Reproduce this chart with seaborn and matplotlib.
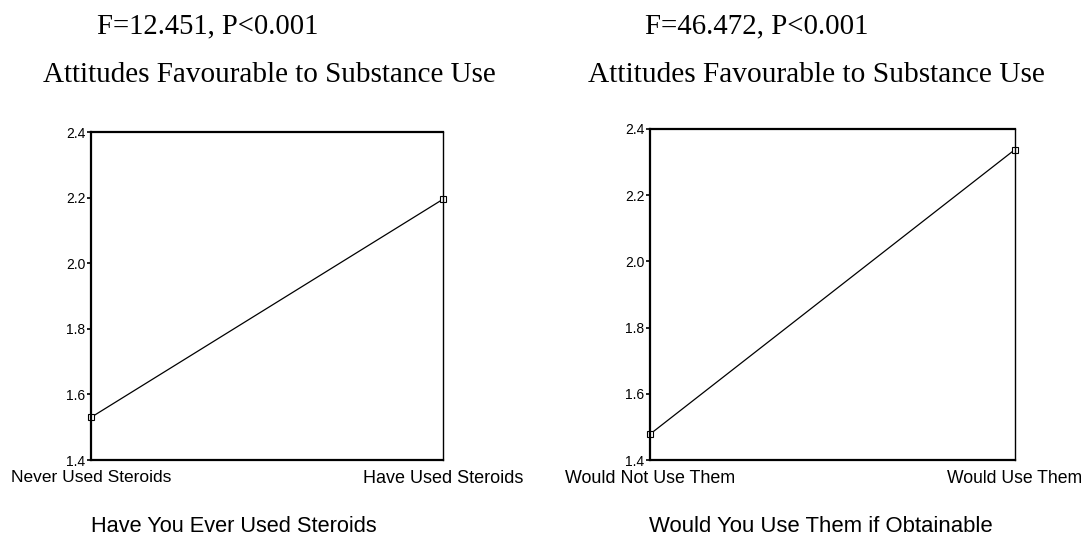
import matplotlib
matplotlib.use("Agg")
import matplotlib.pyplot as plt
import seaborn as sns
import pandas as pd

# ---- data ----
groups_left = ["Never Used Steroids", "Have Used Steroids"]
means_left = [1.53, 2.195]
groups_right = ["Would Not Use Them", "Would Use Them"]
means_right = [1.478, 2.338]
stats_left = "F=12.451, P<0.001"
stats_right = "F=46.472, P<0.001"
dv_title = "Attitudes Favourable to Substance Use"
xlabel_left = "Have You Ever Used Steroids"
xlabel_right = "Would You Use Them if Obtainable"
yticks = [1.4, 1.6, 1.8, 2.0, 2.2, 2.4]
ytick_labels = ["1.4", "1.6", "1.8", "2.0", "2.2", "2.4"]

sns.set_theme(style="white")
plt.rcParams["font.family"] = ["Liberation Sans", "DejaVu Sans"]

W, H = 1088, 538
fig = plt.figure(figsize=(W / 100, H / 100), dpi=100)
fig.patch.set_facecolor("white")


def px_axes(x0, y0, x1, y1):
    return fig.add_axes([x0 / W, 1 - y1 / H, (x1 - x0) / W, (y1 - y0) / H])


axL = px_axes(91, 132, 443, 460)
axR = px_axes(650, 129, 1015, 460)

panels = [
    (axL, groups_left, means_left),
    (axR, groups_right, means_right),
]

for ax, groups, means in panels:
    df = pd.DataFrame({"group": groups, "mean": means})
    sns.lineplot(data=df, x="group", y="mean", ax=ax, sort=False,
                 color="black", linewidth=0.9, marker="s", markersize=5,
                 markerfacecolor="white", markeredgecolor="black",
                 markeredgewidth=0.8)
    for ln in ax.lines:
        ln.set_clip_on(False)
    ax.set_xlim(0, 1)
    ax.set_ylim(1.4, 2.4)
    ax.set_yticks(yticks)
    ax.set_yticklabels(ytick_labels)
    ax.set_xlabel("")
    ax.set_ylabel("")
    ax.tick_params(axis="y", direction="out", length=3, width=1.2,
                   labelsize=10, pad=1, left=True, colors="black")
    ax.tick_params(axis="x", length=0, pad=7, labelsize=12, colors="black")
    for name, sp in ax.spines.items():
        sp.set_visible(True)
        sp.set_color("black")
        sp.set_linewidth(1.0 if name == "right" else 1.6)

texts = []


def ftext(x, y, s, target_w, **kw):
    t = fig.text(x / W, 1 - y / H, s, ha="center", va="center", **kw)
    texts.append((t, target_w))
    return t


serif = ["Liberation Serif", "DejaVu Serif"]
ftext(208, 26, stats_left, 222, family=serif, fontsize=16, color="black")
ftext(269, 75, dv_title, 453, family=serif, fontsize=18, color="black")
ftext(757, 26, stats_right, 224, family=serif, fontsize=16, color="black")
ftext(816, 75, dv_title, 456, family=serif, fontsize=18, color="black")
ftext(234, 527, xlabel_left, 288, fontsize=14, color="black")
ftext(821, 527, xlabel_right, 345, fontsize=14, color="black")

# fit text sizes to the widths seen in the reference
fig.canvas.draw()
r = fig.canvas.get_renderer()
for t, tw in texts:
    w = t.get_window_extent(r).width
    t.set_fontsize(t.get_fontsize() * tw / w)

tick_targets = {"Never Used Steroids": 161, "Have Used Steroids": 160,
                "Would Not Use Them": 171, "Would Use Them": 136}
fig.canvas.draw()
for ax in (axL, axR):
    for lab in ax.get_xticklabels():
        tw = tick_targets.get(lab.get_text())
        if tw:
            w = lab.get_window_extent(r).width
            lab.set_fontsize(lab.get_fontsize() * tw / w)

fig.savefig("out.png", dpi=100, facecolor="white")
